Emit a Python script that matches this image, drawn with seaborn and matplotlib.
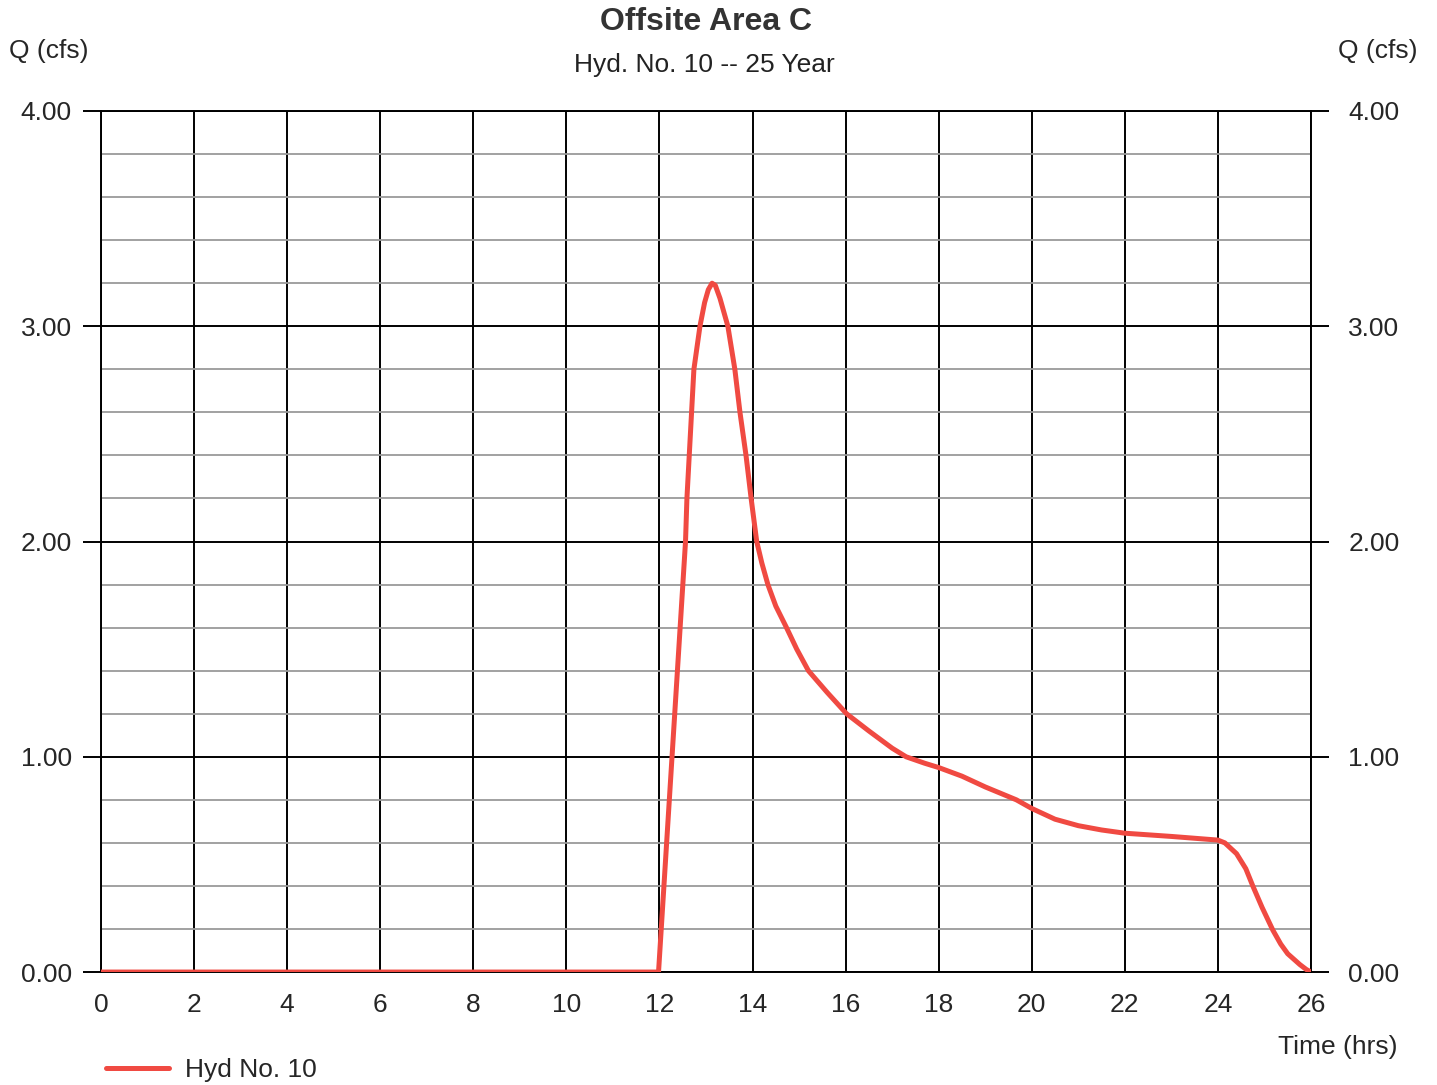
import matplotlib
matplotlib.use('Agg')
import matplotlib.pyplot as plt
import seaborn as sns
import numpy as np

# Hydrograph
time_hrs = [0, 6, 11.98, 12.27, 12.56, 12.59, 12.64, 12.69, 12.74, 12.87, 12.97, 13.05,
            13.13, 13.2, 13.3, 13.47, 13.62, 13.73, 13.86, 13.97, 14.09, 14.2, 14.33,
            14.5, 14.73, 14.95, 15.2, 15.6, 16.02, 16.5, 17.0, 17.3, 17.7, 18.0, 18.5,
            19.0, 19.67, 20.0, 20.5, 21.0, 21.5, 22.0, 23.0, 24.0, 24.15, 24.4, 24.6,
            24.75, 24.95, 25.18, 25.35, 25.5, 25.76, 25.9, 26.0]
flow_cfs = [0, 0, 0, 1.0, 2.0, 2.2, 2.4, 2.6, 2.8, 3.0, 3.11, 3.17,
            3.2, 3.19, 3.13, 3.0, 2.8, 2.6, 2.4, 2.2, 2.0, 1.9, 1.8,
            1.7, 1.6, 1.5, 1.4, 1.3, 1.2, 1.12, 1.04, 1.0, 0.97, 0.95, 0.91,
            0.86, 0.8, 0.76, 0.71, 0.68, 0.66, 0.645, 0.63, 0.613, 0.6, 0.55, 0.48,
            0.40, 0.3, 0.195, 0.13, 0.085, 0.035, 0.012, 0.0]
x_ticks = list(range(0, 27, 2))
y_ticks = [0, 1, 2, 3, 4]

sns.set_style('white')
plt.rcParams['font.family'] = ['Liberation Sans', 'DejaVu Sans']

fig = plt.figure(figsize=(14.37, 10.85), dpi=100)
ax = fig.add_axes([0.0703, 0.1041, 0.8420, 0.7936])

sns.lineplot(x=time_hrs, y=flow_cfs, ax=ax, color='#f04a42', lw=3.6,
             label='Hyd No. 10', zorder=5)

ax.set_xlim(0, 26)
ax.set_ylim(0, 4)
ax.set_xticks(x_ticks)
ax.set_yticks(y_ticks)
ax.set_yticks(np.arange(0, 4.01, 0.2), minor=True)
ax.set_yticklabels([f'{v:.2f}' for v in y_ticks])
ax.grid(which='minor', axis='y', color='#9a9a9a', lw=1.3)
ax.grid(which='major', axis='both', color='black', lw=1.4)
ax.set_axisbelow(True)
ax.tick_params(axis='y', which='major', length=13, width=1.4, color='black',
               labelsize=19, pad=8)
ax.tick_params(axis='y', which='minor', length=0)
ax.tick_params(axis='x', length=0, labelsize=19, pad=15)
for s in ax.spines.values():
    s.set_color('black')
    s.set_linewidth(1.4)

ax2 = ax.twinx()
ax2.set_ylim(0, 4)
ax2.set_yticks(y_ticks)
ax2.set_yticklabels([f'{v:.2f}' for v in y_ticks])
ax2.tick_params(axis='y', length=13, width=1.4, color='black', labelsize=19, pad=14)
ax2.grid(False)
for s in ax2.spines.values():
    s.set_visible(False)

ax.set_xlabel('')
ax.set_ylabel('')
fig.text(0.491, 0.980, 'Offsite Area C', ha='center', va='center',
         fontsize=23, fontweight='bold', color='#333333')
fig.text(0.490, 0.940, 'Hyd. No. 10 -- 25 Year', ha='center', va='center',
         fontsize=19, color='#222222')
fig.text(0.034, 0.953, 'Q (cfs)', ha='center', va='center', fontsize=19)
fig.text(0.959, 0.953, 'Q (cfs)', ha='center', va='center', fontsize=19)
fig.text(0.931, 0.035, 'Time (hrs)', ha='center', va='center', fontsize=19)

ax.legend(loc='center left', bbox_to_anchor=(0.057, 0.014),
          bbox_transform=fig.transFigure, frameon=False, fontsize=19,
          handlelength=2.4, handletextpad=0.6)

fig.savefig('out.png', dpi=100)
